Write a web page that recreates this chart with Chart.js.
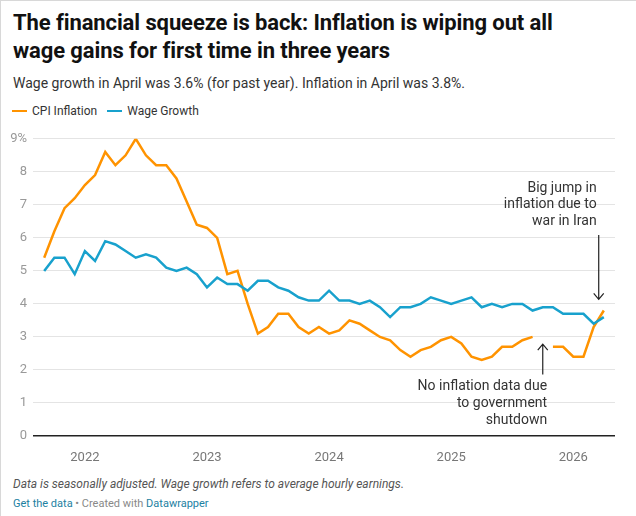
<!DOCTYPE html>
<html>
<head>
<meta charset="utf-8">
<script src="https://cdn.jsdelivr.net/npm/chart.js@4.4.1/dist/chart.umd.min.js"></script>
<style>
  html,body{margin:0;padding:0;background:#fff;}
  body{width:636px;height:516px;position:relative;overflow:hidden;font-family:Roboto,"Noto Sans",sans-serif;}
  #frame{position:absolute;left:0;top:0;width:636px;height:516px;border-left:1px solid #d8d8d8;border-top:1px solid #d8d8d8;box-sizing:border-box;}
  #title{position:absolute;left:13px;top:9px;width:610px;font-weight:700;font-size:22px;line-height:28px;color:#111;letter-spacing:-0.1px;}
  #sub{position:absolute;left:13px;top:75px;font-size:14px;color:#333;white-space:nowrap;}
  #legend{position:absolute;left:12px;top:104px;font-size:12px;color:#333;white-space:nowrap;}
  .sw{display:inline-block;width:15px;height:2.5px;vertical-align:middle;margin-right:5px;position:relative;top:-1px;}
  .li{margin-right:10px;}
  #wrap{position:absolute;left:0;top:125px;width:636px;height:340px;}
  #note{position:absolute;left:13px;top:477px;font-size:12px;font-style:italic;color:#555;white-space:nowrap;}
  #src{position:absolute;left:13px;top:497px;font-size:11px;color:#888;white-space:nowrap;}
  #src a{color:#1d81a2;text-decoration:none;}
</style>
</head>
<body>
<div id="frame"></div>
<div id="title">The financial squeeze is back: Inflation is wiping out all<br>wage gains for first time in three years</div>
<div id="sub">Wage growth in April was 3.6% (for past year). Inflation in April was 3.8%.</div>
<div id="legend"><span class="li"><span class="sw" style="background:#ff9300"></span>CPI Inflation</span><span class="li"><span class="sw" style="background:#18a1cd"></span>Wage Growth</span></div>
<div id="wrap"><canvas id="c" width="636" height="340"></canvas></div>
<div id="note">Data is seasonally adjusted. Wage growth refers to average hourly earnings.</div>
<div id="src"><a>Get the data</a> • Created with <a>Datawrapper</a></div>
<script>
// Monthly data, Sep 2021 (index 0) to Apr 2026 (index 55)
const startYear = 2021, startMonth = 9;
const cpiInflation = [5.4,6.2,6.9,7.2,7.6,7.9,8.6,8.2,8.5,9.0,8.5,8.2,8.2,7.8,7.1,6.4,6.3,6.0,4.9,5.0,
  4.0,3.1,3.3,3.7,3.7,3.3,3.1,3.3,3.1,3.2,3.5,3.4,3.2,3.0,2.9,2.6,2.4,2.6,2.7,2.9,
  3.0,2.8,2.4,2.3,2.4,2.7,2.7,2.9,3.0,null,2.7,2.7,2.4,2.4,3.3,3.8];
const wageGrowth = [5.0,5.4,5.4,4.9,5.6,5.3,5.9,5.8,5.6,5.4,5.5,5.4,5.1,5.0,5.1,4.9,4.5,4.8,4.6,4.6,
  4.4,4.7,4.7,4.5,4.4,4.2,4.1,4.1,4.4,4.1,4.1,4.0,4.1,3.9,3.6,3.9,3.9,4.0,4.2,4.1,
  4.0,4.1,4.2,3.9,4.0,3.9,4.0,4.0,3.8,3.9,3.9,3.7,3.7,3.7,3.4,3.6];
const yearLabels = ["2022","2023","2024","2025","2026"];
const yTicks = [0,1,2,3,4,5,6,7,8,9];

// month index of January for each year label
const yearTickIdx = yearLabels.map(y => (parseInt(y) - startYear) * 12 + (1 - startMonth));
const toPts = arr => arr.map((v, i) => ({x: i, y: v}));

const annotations = [
  {lines:["Big jump in","inflation due to","war in Iran"], x:54.3, y:7.5, step:0.5,
   arrow:{x:54.5, y1:6.09, y2:4.14}},
  {lines:["No inflation data due","to government","shutdown"], x:49.43, y:1.5, step:0.51,
   arrow:{x:49.0, y1:1.86, y2:2.78}}
];

const annotPlugin = {
  id:'annot',
  afterDatasetsDraw(chart){
    const {ctx, scales:{x, y}} = chart;
    ctx.save();
    ctx.font = '14px Roboto, "Noto Sans", sans-serif';
    ctx.fillStyle = '#333';
    ctx.textAlign = 'right';
    ctx.textBaseline = 'middle';
    annotations.forEach(a => {
      a.lines.forEach((t, k) => ctx.fillText(t, x.getPixelForValue(a.x), y.getPixelForValue(a.y - k*a.step)));
      const ax = x.getPixelForValue(a.arrow.x);
      const py1 = y.getPixelForValue(a.arrow.y1), py2 = y.getPixelForValue(a.arrow.y2);
      ctx.strokeStyle = '#222';
      ctx.lineWidth = 1.2;
      ctx.beginPath();
      ctx.moveTo(ax, py1); ctx.lineTo(ax, py2);
      const dir = py2 > py1 ? -1 : 1;
      ctx.moveTo(ax - 5, py2 + dir*6); ctx.lineTo(ax, py2); ctx.lineTo(ax + 5, py2 + dir*6);
      ctx.stroke();
    });
    ctx.restore();
  }
};

new Chart(document.getElementById('c'), {
  type:'line',
  data:{datasets:[
    {label:'Wage Growth', data:toPts(wageGrowth), borderColor:'#18a1cd', borderWidth:2.5, pointRadius:0, tension:0, spanGaps:false},
    {label:'CPI Inflation', data:toPts(cpiInflation), borderColor:'#ff9300', borderWidth:2.5, pointRadius:0, tension:0, spanGaps:false}
  ]},
  options:{
    responsive:false, animation:false, devicePixelRatio:1,
    layout:{padding:{top:11, right:21, left:0, bottom:0}},
    plugins:{legend:{display:false}, tooltip:{enabled:false}},
    scales:{
      x:{type:'linear', min:-1.1, max:56.1,
        afterBuildTicks: s => { s.ticks = yearTickIdx.map(v => ({value:v})); },
        afterFit: s => { s.height = 29; },
        grid:{display:false}, border:{display:false},
        ticks:{padding:6, color:'#777', font:{family:'Roboto', size:13},
          callback: v => { const i = yearTickIdx.indexOf(v); return i >= 0 ? yearLabels[i] : ''; }}
      },
      y:{min:0, max:9,
        afterBuildTicks: s => { s.ticks = yTicks.map(v => ({value:v})); },
        afterFit: s => { s.width = 33; },
        border:{display:false},
        grid:{drawTicks:false,
          color: c => c.tick && c.tick.value === 0 ? '#222' : '#e4e4e4',
          lineWidth: c => c.tick && c.tick.value === 0 ? 1.5 : 1},
        ticks:{padding:6, color:'#999', font:{family:'Roboto', size:13},
          callback: v => v === 9 ? '9%' : String(v)}
      }
    }
  },
  plugins:[annotPlugin]
});
</script>
</body>
</html>
